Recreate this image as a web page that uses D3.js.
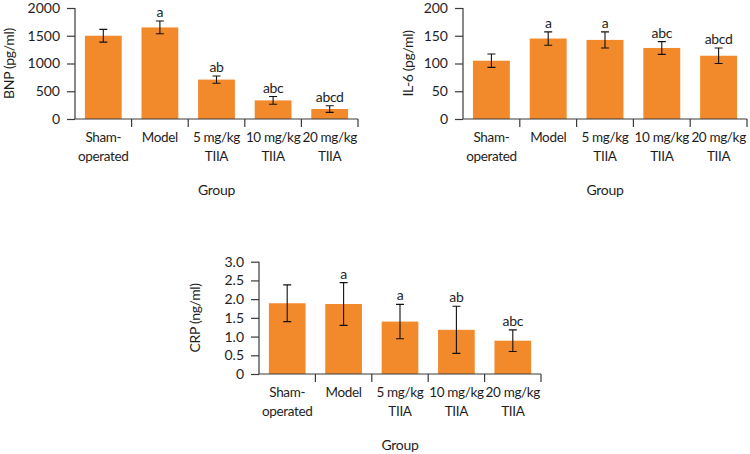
<!DOCTYPE html>
<html>
<head>
<meta charset="utf-8">
<script src="https://cdn.jsdelivr.net/npm/d3@7"></script>
<style>
  html, body { margin: 0; padding: 0; background: #fff; }
  svg { display: block; font-family: Lato, "Open Sans", sans-serif; }
  svg text { letter-spacing: -0.35px; }
</style>
</head>
<body>
<svg id="chart" width="750" height="454"></svg>
<script>
// ---- data ----
const categories = ["Sham-operated", "Model", "5 mg/kg TIIA", "10 mg/kg TIIA", "20 mg/kg TIIA"];
const categoryLines = [["Sham-", "operated"], ["Model"], ["5 mg/kg", "TIIA"], ["10 mg/kg", "TIIA"], ["20 mg/kg", "TIIA"]];

const bnpValues = [1500, 1650, 710, 335, 180];
const bnpErrors = [115, 115, 65, 70, 60];
const bnpLetters = ["", "a", "ab", "abc", "abcd"];
const bnpTicks = [0, 500, 1000, 1500, 2000];

const il6Values = [105, 145, 142.5, 128, 114];
const il6Errors = [12, 12, 14.5, 11.5, 14];
const il6Letters = ["", "a", "a", "abc", "abcd"];
const il6Ticks = [0, 50, 100, 150, 200];

const crpValues = [1.89, 1.87, 1.40, 1.18, 0.89];
const crpErrors = [0.49, 0.57, 0.46, 0.63, 0.29];
const crpLetters = ["", "a", "a", "ab", "abc"];
const crpTicks = [0, 0.5, 1.0, 1.5, 2.0, 2.5, 3.0];
const crpTickLabels = ["0", "0.5", "1.0", "1.5", "2.0", "2.5", "3.0"];

// ---- drawing ----
const svg = d3.select("#chart");
const barColor = "#F28A2B";
const axisColor = "#3a3a3a";
const textColor = "#1e1e1e";
const fs = 14;

function panel(opts) {
  const { x0, x1, yTop, yBottom, values, errors, letters, ticks, tickLabels, yMax, yLabel, yLabelX } = opts;
  const g = svg.append("g");
  const x = d3.scaleBand().domain(categories).range([x0, x1]).paddingInner(0.35).paddingOuter(0.175);
  const y = d3.scaleLinear().domain([0, yMax]).range([yBottom, yTop]);

  // bars
  g.selectAll("rect.bar").data(categories).join("rect")
    .attr("x", d => x(d))
    .attr("width", x.bandwidth())
    .attr("y", (d, i) => y(values[i]))
    .attr("height", (d, i) => y(0) - y(values[i]))
    .attr("fill", barColor);

  // y axis
  const yAxis = d3.axisLeft(y).tickValues(ticks).tickSize(8).tickPadding(7)
    .tickFormat((d, i) => tickLabels ? tickLabels[i] : d3.format("d")(d));
  const ya = g.append("g").attr("transform", `translate(${x0},0)`).call(yAxis);
  ya.select(".domain").attr("d", `M0,${y(yMax)}V${y(0)}`).attr("stroke", axisColor).attr("stroke-width", 1.2);
  ya.selectAll(".tick line").attr("stroke", axisColor).attr("stroke-width", 1.2);
  ya.selectAll(".tick text").attr("fill", textColor).style("font-size", fs + "px")
    .style("font-family", "Lato, sans-serif").style("letter-spacing", "0px");

  // x axis line and boundary ticks
  g.append("line").attr("x1", x0).attr("x2", x1).attr("y1", y(0)).attr("y2", y(0))
    .attr("stroke", axisColor).attr("stroke-width", 1.2);
  g.selectAll("line.xtick").data(categories).join("line")
    .attr("x1", d => x(d) + x.bandwidth() + x.step() * 0.175)
    .attr("x2", d => x(d) + x.bandwidth() + x.step() * 0.175)
    .attr("y1", y(0)).attr("y2", y(0) + 8)
    .attr("stroke", axisColor).attr("stroke-width", 1.2);

  // category labels
  categories.forEach((c, i) => {
    const t = g.append("text").attr("text-anchor", "middle").attr("fill", textColor)
      .style("font-size", (fs - 0.5) + "px");
    categoryLines[i].forEach((ln, j) => {
      t.append("tspan").attr("x", x(c) + x.bandwidth() / 2).attr("y", y(0) + 23 + j * 19).text(ln);
    });
  });

  // error bars
  const cap = 4;
  categories.forEach((c, i) => {
    const cx = x(c) + x.bandwidth() / 2;
    const hi = y(values[i] + errors[i]), lo = y(values[i] - errors[i]);
    g.append("path").attr("d", `M${cx},${hi}V${lo}M${cx - cap},${hi}H${cx + cap}M${cx - cap},${lo}H${cx + cap}`)
      .attr("stroke", "#111").attr("stroke-width", 1.1).attr("fill", "none");
    if (letters[i]) {
      g.append("text").attr("x", cx).attr("y", hi - 4).attr("text-anchor", "middle")
        .attr("fill", textColor).style("font-size", fs + "px").text(letters[i]);
    }
  });

  // axis titles
  g.append("text").attr("x", (x0 + x1) / 2).attr("y", y(0) + 76).attr("text-anchor", "middle")
    .attr("fill", textColor).style("font-size", fs + "px").text("Group");
  g.append("text").attr("transform", `translate(${yLabelX},${(yTop + yBottom) / 2}) rotate(-90)`)
    .attr("text-anchor", "middle").attr("fill", textColor).style("font-size", fs + "px").text(yLabel);
}

panel({ x0: 75, x1: 358, yTop: 8, yBottom: 119, values: bnpValues, errors: bnpErrors, letters: bnpLetters,
  ticks: bnpTicks, yMax: 2000, yLabel: "BNP (pg/ml)", yLabelX: 14 });
panel({ x0: 463, x1: 747, yTop: 8, yBottom: 119, values: il6Values, errors: il6Errors, letters: il6Letters,
  ticks: il6Ticks, yMax: 200, yLabel: "IL-6 (pg/ml)", yLabelX: 413 });
panel({ x0: 259, x1: 541, yTop: 261.7, yBottom: 374, values: crpValues, errors: crpErrors, letters: crpLetters,
  ticks: crpTicks, tickLabels: crpTickLabels, yMax: 3.0, yLabel: "CRP (ng/ml)", yLabelX: 200 });
</script>
</body>
</html>
